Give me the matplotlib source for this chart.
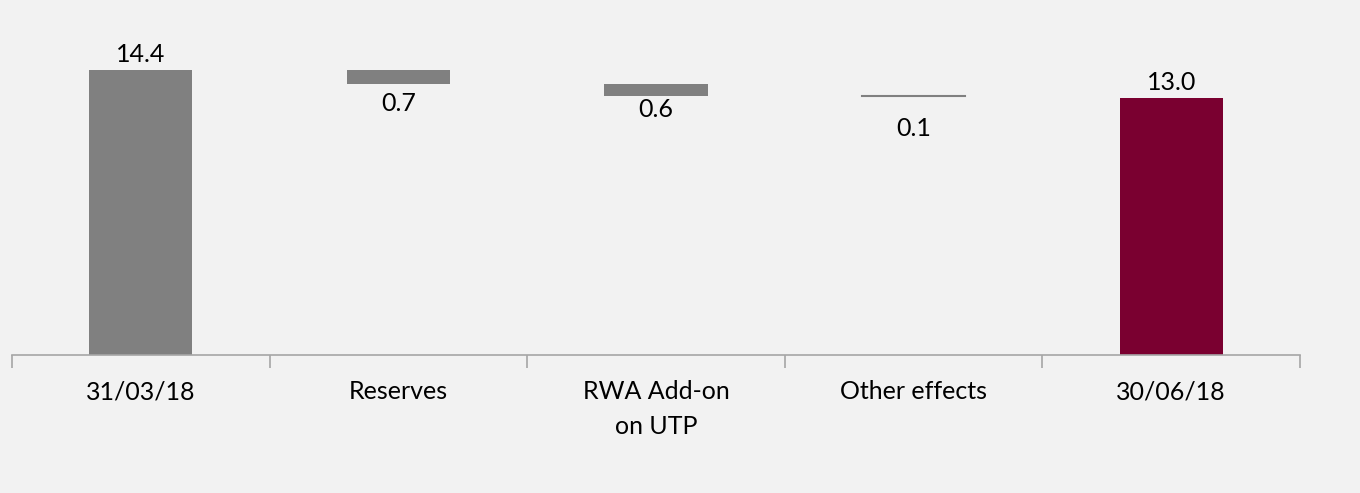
import numpy as np
import matplotlib.pyplot as plt

plt.rcParams['font.family'] = ['Lato', 'DejaVu Sans']

categories = ['31/03/18', 'Reserves', 'RWA Add-on\non UTP', 'Other effects', '30/06/18']
start_value = 14.4
deltas = [-0.7, -0.6, -0.1]
end_value = 13.0

grey = '#808080'
maroon = '#7a0030'
bg = '#f2f2f2'
fs = 18
# distance (pt) from the bottom of each step to its label
label_gap = [6, 2, 14]

fig = plt.figure(figsize=(13.6, 4.93), dpi=100, facecolor=bg)
ax = fig.add_axes([12 / 1360, 138 / 493, 1288 / 1360, 355 / 493])
ax.set_facecolor(bg)

x = np.arange(len(categories))
width = 0.4

# opening and closing totals
ax.bar(x[0], start_value, width, color=grey)
ax.bar(x[-1], end_value, width, color=maroon)
for xi, v in [(x[0], start_value), (x[-1], end_value)]:
    ax.annotate(f'{v:.1f}', (xi, v), xytext=(0, 2.5), textcoords='offset points',
                ha='center', va='bottom', fontsize=fs)

# floating steps
level = start_value
for i, d in enumerate(deltas, start=1):
    bottom = level + d
    h = -d
    if h <= 0.1:
        ax.plot([x[i] - width / 2, x[i] + width / 2], [level, level], color=grey, lw=1.5)
    else:
        ax.bar(x[i], h, width, bottom=bottom, color=grey)
    ax.annotate(f'{abs(d):.1f}', (x[i], bottom), xytext=(0, -label_gap[i - 1]),
                textcoords='offset points', ha='center', va='top', fontsize=fs)
    level = bottom

ax.set_xlim(-0.5, len(categories) - 0.5)
ax.set_ylim(0, 355 / 19.8)

for s in ['top', 'right', 'left']:
    ax.spines[s].set_visible(False)
ax.spines['bottom'].set_color('#a6a6a6')
ax.spines['bottom'].set_linewidth(1.2)
ax.set_yticks([])

ax.set_xticks(np.arange(len(categories) + 1) - 0.5, minor=False)
ax.set_xticklabels([])
ax.tick_params(axis='x', which='major', length=9, color='#a6a6a6', width=1.2, direction='out')
ax.set_xticks(x, minor=True)
ax.set_xticklabels(categories, minor=True, fontsize=fs, linespacing=1.65)
ax.tick_params(axis='x', which='minor', length=0, pad=18)

fig.savefig('out.png', dpi=100, facecolor=bg)
